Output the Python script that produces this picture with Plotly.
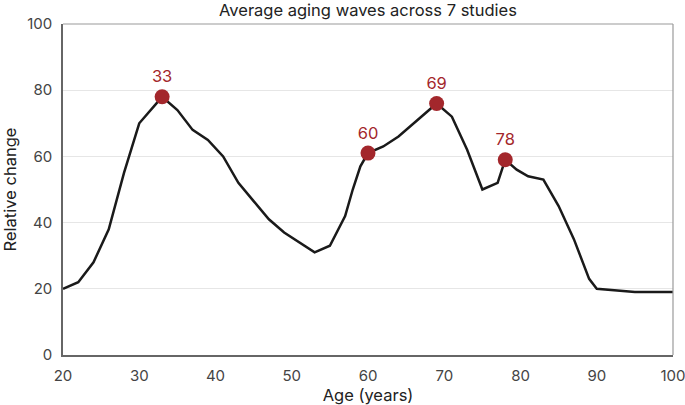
import plotly.graph_objects as go

ages = [20, 22, 24, 26, 28, 30, 33, 35, 37, 39, 41, 43, 45, 47, 49, 51, 53, 55, 57, 58, 59, 60, 62, 64, 66, 69, 71, 73, 75, 77, 78, 79.5, 81, 83, 85, 87, 89, 90, 95, 100]
values = [20, 22, 28, 38, 55, 70, 78, 74, 68, 65, 60, 52, 46.5, 41, 37, 34, 31, 33, 42, 50, 57, 61, 63, 66, 70, 76, 72, 62, 50, 52, 59, 56, 54, 53, 45, 35, 23, 20, 19, 19]

peak_ages = [33, 60, 69, 78]
peak_values = [78, 61, 76, 59]
peak_labels = ["33", "60", "69", "78"]

red = "#a3272c"
font_family = "Inter, Roboto, sans-serif"

fig = go.Figure()
fig.add_trace(go.Scatter(x=ages, y=values, mode="lines",
                         line=dict(color="#1a1a1a", width=2.5), showlegend=False,
                         hoverinfo="skip"))
fig.add_trace(go.Scatter(x=peak_ages, y=peak_values, mode="markers+text",
                         marker=dict(color=red, size=15),
                         text=peak_labels, textposition="top center",
                         textfont=dict(color=red, size=16.5, family=font_family),
                         showlegend=False))

fig.update_layout(
    width=685, height=405,
    margin=dict(l=63, r=12, t=24, b=50),
    paper_bgcolor="white", plot_bgcolor="white",
    font=dict(family=font_family, color="#333333", size=14),
    title=dict(text="Average aging waves across 7 studies", x=(63 + 673) / 2 / 685,
               xanchor="center", y=0.975, yanchor="middle",
               font=dict(size=16.5, color="#222222")),
    xaxis=dict(range=[20, 100], tickvals=[20, 30, 40, 50, 60, 70, 80, 90, 100],
               showgrid=False, showline=True, linecolor="#666666", linewidth=1.5,
               ticks="", zeroline=False, automargin=False, ticklabelstandoff=6,
               ticklabeloverflow="allow",
               title=dict(text="Age (years)", standoff=8, font=dict(size=16.5, color="#222222")),
               tickfont=dict(size=15, color="#444444")),
    yaxis=dict(range=[0, 100], tickvals=[0, 20, 40, 60, 80, 100],
               showgrid=True, gridcolor="#e6e6e6", gridwidth=1,
               showline=True, linecolor="#666666", linewidth=1.5,
               ticks="", zeroline=False, automargin=False, ticklabelstandoff=6,
               ticklabeloverflow="allow",
               title=dict(text="Relative change", standoff=8, font=dict(size=16.5, color="#222222")),
               tickfont=dict(size=15, color="#444444")),
    shapes=[
        dict(type="line", xref="paper", yref="paper", x0=0, x1=1, y0=1, y1=1,
             line=dict(color="#9a9a9a", width=1.2)),
        dict(type="line", xref="paper", yref="paper", x0=1, x1=1, y0=0, y1=1,
             line=dict(color="#9a9a9a", width=1.2)),
    ],
)

fig.write_html("out.html")
